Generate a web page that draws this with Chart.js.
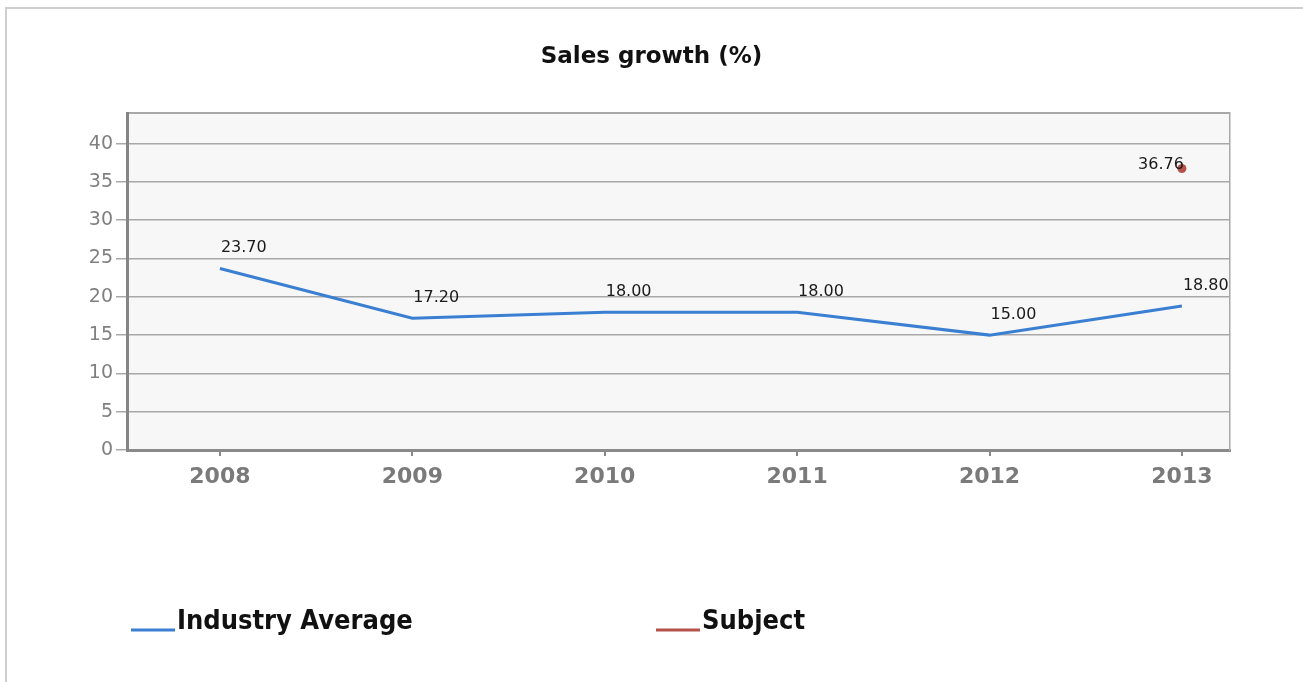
<!DOCTYPE html>
<html>
<head>
<meta charset="utf-8">
<script src="https://cdn.jsdelivr.net/npm/chart.js@4.4.1/dist/chart.umd.min.js"></script>
<style>
  html, body { margin: 0; padding: 0; background: #fff; }
  #wrap { position: relative; width: 1303px; height: 682px; }
  #frame {
    position: absolute; left: 5px; top: 7px; right: 0; bottom: 0;
    border-left: 2px solid #cfcfcf; border-top: 2px solid #cfcfcf;
  }
  canvas { position: absolute; left: 0; top: 0; }
</style>
</head>
<body>
<div id="wrap">
  <div id="frame"></div>
  <canvas id="salesChart" width="1303" height="682"></canvas>
</div>
<script>
// Sales growth (%) - industry average vs subject

const years = [2008, 2009, 2010, 2011, 2012, 2013];
const industryAverage = [23.70, 17.20, 18.00, 18.00, 15.00, 18.80];
const subject = [null, null, null, null, null, 36.76];
const yTicks = [0, 5, 10, 15, 20, 25, 30, 35, 40];

const seriesNames = ["Industry Average", "Subject"];
const seriesColors = ["#3a7fd2", "#b5524a"];

const toPoints = (vals) => years.map((yr, i) => ({ x: yr, y: vals[i] }));

// plot background + top edge
const plotBackground = {
  id: "plotBackground",
  beforeDraw(chart) {
    const { ctx, chartArea: a } = chart;
    ctx.save();
    ctx.fillStyle = "#f7f7f7";
    ctx.fillRect(a.left, a.top, a.right - a.left, a.bottom - a.top);
    ctx.strokeStyle = "#a8a8a8";
    ctx.lineWidth = 2;
    ctx.beginPath();
    ctx.moveTo(a.left, a.top);
    ctx.lineTo(a.right, a.top);
    ctx.stroke();
    ctx.restore();
  },
};

// value labels next to each point, clipped to the plot
const valueLabels = {
  id: "valueLabels",
  afterDatasetsDraw(chart) {
    const { ctx, chartArea: a } = chart;
    ctx.save();
    ctx.beginPath();
    ctx.rect(a.left, a.top, a.right - a.left, a.bottom - a.top);
    ctx.clip();
    ctx.font = "16px 'DejaVu Sans', sans-serif";
    ctx.fillStyle = "#1a1a1a";
    ctx.textBaseline = "alphabetic";
    chart.data.datasets.forEach((ds, di) => {
      chart.getDatasetMeta(di).data.forEach((pt, i) => {
        const v = ds.data[i].y;
        if (v === null) return;
        if (di === 0) {
          ctx.textAlign = "left";
          ctx.fillText(v.toFixed(2), pt.x + 1, pt.y - 16);
        } else {
          ctx.textAlign = "right";
          ctx.fillText(v.toFixed(2), pt.x + 2, pt.y + 1);
        }
      });
    });
    ctx.restore();
  },
};

// legend: short line at the baseline, bold label after it
const bottomLegend = {
  id: "bottomLegend",
  afterDraw(chart) {
    const { ctx } = chart;
    const starts = [131, 656];
    ctx.save();
    ctx.font = "bold 27px 'DejaVu Sans Condensed', 'Liberation Sans Narrow', 'DejaVu Sans', sans-serif";
    ctx.textBaseline = "alphabetic";
    ctx.textAlign = "left";
    seriesNames.forEach((name, i) => {
      const x = starts[i];
      ctx.strokeStyle = seriesColors[i];
      ctx.lineWidth = 3;
      ctx.beginPath();
      ctx.moveTo(x, 630);
      ctx.lineTo(x + 44, 630);
      ctx.stroke();
      ctx.fillStyle = "#111";
      ctx.fillText(name, x + 46, 629);
    });
    ctx.restore();
  },
};

new Chart(document.getElementById("salesChart"), {
  type: "line",
  data: {
    datasets: [
      {
        label: seriesNames[0],
        data: toPoints(industryAverage),
        borderColor: seriesColors[0],
        backgroundColor: seriesColors[0],
        borderWidth: 3,
        pointRadius: 0,
        tension: 0,
      },
      {
        label: seriesNames[1],
        data: toPoints(subject),
        borderColor: seriesColors[1],
        backgroundColor: seriesColors[1],
        showLine: false,
        pointRadius: 4.5,
        pointBorderWidth: 0,
      },
    ],
  },
  options: {
    responsive: false,
    animation: false,
    layout: { padding: 0 },
    plugins: {
      legend: { display: false },
      tooltip: { enabled: false },
      title: {
        display: true,
        text: "Sales growth (%)",
        color: "#111",
        font: { family: "'DejaVu Sans', sans-serif", size: 23, weight: "bold" },
        padding: { top: 43.2, bottom: 42.2 },
      },
    },
    scales: {
      x: {
        type: "linear",
        min: 2007.517,
        max: 2013.25,
        afterBuildTicks: (s) => { s.ticks = years.map((v) => ({ value: v })); },
        afterFit: (s) => { s.height = 682 - 450; },
        grid: { display: true, drawOnChartArea: false, tickLength: 6, color: "#888", lineWidth: 2 },
        border: { display: true, color: "#8a8a8a", width: 3, dash: [3, 2] },
        ticks: {
          color: "#7a7a7a",
          padding: 8,
          font: { family: "'DejaVu Sans', sans-serif", size: 22, weight: "bold" },
          callback: (v) => String(v),
        },
      },
      y: {
        min: 0,
        max: 44,
        afterBuildTicks: (s) => { s.ticks = yTicks.map((v) => ({ value: v })); },
        afterFit: (s) => { s.width = 127; },
        grid: { color: "#a8a8a8", lineWidth: 1.5, tickLength: 11 },
        border: { display: true, color: "#858585", width: 3 },
        ticks: {
          color: "#808080",
          padding: 3,
          font: { family: "'DejaVu Sans', sans-serif", size: 19 },
        },
      },
      y2: {
        position: "right",
        min: 0,
        max: 44,
        afterFit: (s) => { s.width = 1303 - 1230; },
        grid: { display: false },
        border: { display: true, color: "#a8a8a8", width: 1.5 },
        ticks: { display: false },
      },
    },
  },
  plugins: [plotBackground, valueLabels, bottomLegend],
});
</script>
</body>
</html>
